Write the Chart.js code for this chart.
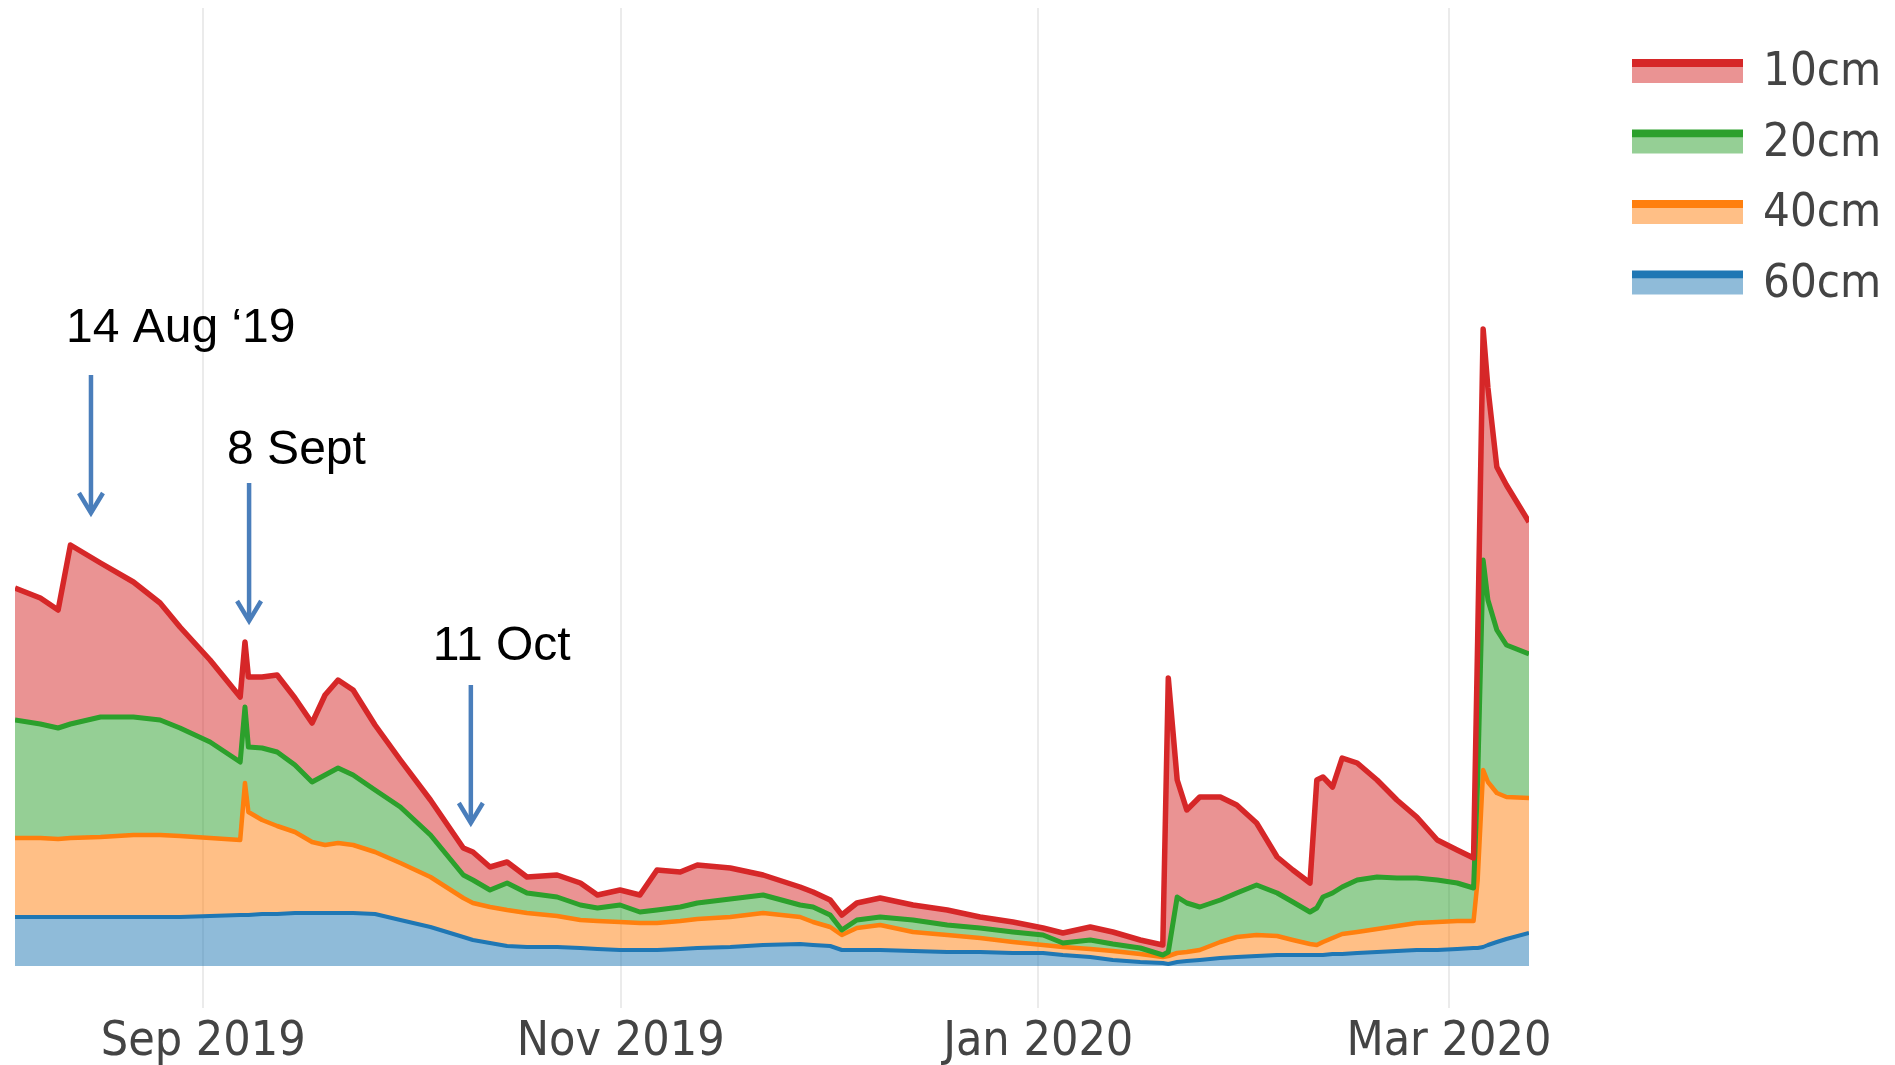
<!DOCTYPE html>
<html>
<head>
<meta charset="utf-8">
<title>Soil moisture by depth</title>
<script src="https://cdn.jsdelivr.net/npm/chart.js@4.4.1/dist/chart.umd.min.js"></script>
<style>
  html, body { margin: 0; padding: 0; background: #fff; }
  #wrap { width: 1895px; height: 1065px; position: relative; }
</style>
</head>
<body>
<div id="wrap"><canvas id="chart"></canvas></div>
<script>
// day 0 = 1 Aug 2019
const days = [3.5, 7.2, 9.8, 11.6, 16.0, 20.8, 24.7, 27.6, 32.0, 36.4, 37.1, 37.6, 39.6, 41.8, 44.4, 46.9, 48.8, 50.7, 52.9, 56.1,
  59.8, 64.2, 69.0, 70.4, 72.9, 75.4, 78.3, 82.7, 86.1, 88.6, 91.9, 94.8, 97.3, 100.7, 103.2, 108.0, 112.8, 118.2, 120.1, 122.6,
  124.3, 126.5, 129.9, 134.7, 139.7, 144.5, 149.3, 153.7, 156.6, 160.6, 163.9, 167.9, 171.2, 172.0, 173.3, 174.7, 176.6, 179.6, 182.0, 184.9,
  187.9, 190.2, 192.7, 193.7, 194.6, 196.0, 197.4, 199.6, 202.5, 205.4, 208.3, 211.3, 214.2, 216.6, 217.2, 218.0, 218.7, 220.0, 221.4, 224.7];

// layer thickness of each depth (stacked bottom -> top: 60, 40, 20, 10 cm)
const moist60 = [49, 49, 49, 49, 49, 49, 49, 49, 50, 51, 51, 51, 52, 52, 53, 53, 53, 53, 53, 52,
  46, 39, 29, 26, 23, 20, 19, 19, 18, 17, 16, 16, 16, 17, 18, 19, 21, 22, 21, 20,
  16, 16, 16, 15, 14, 14, 13, 13, 11, 9, 6, 4, 3, 2, 4, 5, 6, 8, 9, 10,
  11, 11, 11, 11, 11, 12, 12, 13, 14, 15, 16, 16, 17, 18, 18, 19, 21, 24, 27, 33];
const moist40 = [79, 79, 78, 79, 80, 82, 82, 81, 78, 75, 132, 103, 94, 88, 81, 71, 68, 70, 68, 62,
  57, 50, 39, 37, 36, 36, 34, 31, 28, 28, 28, 27, 27, 28, 29, 30, 32, 27, 23, 19,
  15, 22, 25, 19, 17, 14, 11, 8, 8, 8, 9, 8, 6, 8, 9, 9, 10, 16, 20, 21,
  19, 15, 11, 10, 13, 16, 20, 21, 23, 25, 27, 28, 28, 27, 68, 177, 163, 149, 142, 135];
const moist20 = [118, 114, 111, 114, 120, 118, 115, 108, 96, 78, 76, 65, 72, 74, 67, 60, 70, 75, 70, 62,
  56, 42, 23, 23, 17, 27, 20, 19, 15, 13, 17, 11, 13, 14, 16, 18, 18, 12, 15, 12,
  5, 8, 8, 12, 10, 10, 10, 10, 4, 9, 7, 6, 2, 4, 56, 49, 43, 42, 44, 50,
  43, 38, 32, 37, 45, 45, 47, 52, 52, 48, 45, 42, 38, 33, 100, 210, 182, 163, 152, 144];
const moist10 = [132, 126, 118, 179, 154, 135, 117, 101, 82, 65, 65, 70, 71, 77, 67, 59, 80, 88, 85, 65,
  47, 35, 27, 28, 23, 21, 16, 22, 22, 13, 15, 17, 40, 35, 38, 31, 20, 18, 15, 15,
  15, 17, 19, 15, 15, 11, 10, 7, 10, 13, 12, 8, 10, 274, 117, 93, 110, 103, 88, 62,
  36, 32, 29, 128, 120, 106, 129, 117, 97, 78, 61, 40, 33, 30, 140, 231, 212, 163, 160, 132];

const seriesNames = ['10cm', '20cm', '40cm', '60cm'];
const tickDays = [31, 92, 153, 213];
const tickLabels = ['Sep 2019', 'Nov 2019', 'Jan 2020', 'Mar 2020'];

const noteLabels = ['14 Aug \u201819', '8 Sept', '11 Oct'];
const noteDays = [14.6, 37.7, 70.1];
const noteTips = [452, 344, 142];

const lineColors = ['#d62728', '#2ca02c', '#ff7f0e', '#1f77b4'];
const fillColors = ['rgba(214,39,40,0.5)', 'rgba(44,160,44,0.5)', 'rgba(255,127,14,0.5)', 'rgba(31,119,180,0.5)'];
const lineWidths = [5.5, 5, 4.5, 4];

// running totals, like plotly's stackgroup
const layers = [moist60, moist40, moist20, moist10];
const tops = [];
layers.forEach((arr, k) => {
  tops.push(arr.map((v, i) => v + (k ? tops[k - 1][i] : 0)));
});
tops.reverse(); // 10cm boundary first so it is painted last

const arrowNotes = {
  id: 'arrowNotes',
  afterDatasetsDraw(chart) {
    const { ctx, scales: { x, y } } = chart;
    const textShift = [[-25, 33], [-22, 19], [-38, 25]];
    ctx.save();
    noteLabels.forEach((txt, i) => {
      const px = x.getPixelForValue(noteDays[i]);
      const tip = y.getPixelForValue(noteTips[i]);
      const top = tip - 139;
      ctx.strokeStyle = '#4a7ebb';
      ctx.lineWidth = 4.5;
      ctx.beginPath();
      ctx.moveTo(px, top);
      ctx.lineTo(px, tip - 2);
      ctx.stroke();
      ctx.beginPath();
      ctx.moveTo(px - 12, tip - 21);
      ctx.lineTo(px, tip - 1);
      ctx.lineTo(px + 12, tip - 21);
      ctx.stroke();
      ctx.fillStyle = '#000';
      ctx.font = '48px "Liberation Sans", Arial, sans-serif';
      ctx.textAlign = 'left';
      ctx.textBaseline = 'alphabetic';
      ctx.fillText(txt, px + textShift[i][0], top - textShift[i][1]);
    });
    ctx.restore();
  }
};

const sideLegend = {
  id: 'sideLegend',
  afterDraw(chart) {
    const ctx = chart.ctx;
    const left = chart.chartArea.right + 103;
    ctx.save();
    chart.data.datasets.forEach((ds, i) => {
      const cy = 71 + i * 70.5;
      ctx.fillStyle = ds.backgroundColor;
      ctx.fillRect(left, cy - 4, 111, 16);
      ctx.fillStyle = ds.borderColor;
      ctx.fillRect(left, cy - 12, 111, 8);
      ctx.fillStyle = '#444';
      ctx.font = '47px "DejaVu Sans Condensed", "DejaVu Sans", sans-serif';
      ctx.textAlign = 'left';
      ctx.textBaseline = 'middle';
      ctx.fillText(ds.label, left + 131, cy + 2);
    });
    ctx.restore();
  }
};

new Chart(document.getElementById('chart'), {
  type: 'line',
  data: {
    labels: days,
    datasets: seriesNames.map((name, i) => ({
      label: name,
      data: tops[i],
      borderColor: lineColors[i],
      backgroundColor: fillColors[i],
      borderWidth: lineWidths[i],
      fill: i < seriesNames.length - 1 ? '+1' : 'origin',
      pointRadius: 0,
      tension: 0,
      borderJoinStyle: 'round'
    }))
  },
  options: {
    responsive: true,
    maintainAspectRatio: false,
    animation: false,
    devicePixelRatio: 1,
    layout: { padding: { left: 15, right: 366, top: 8, bottom: 0 } },
    scales: {
      x: {
        type: 'linear',
        min: 3.5,
        max: 224.7,
        afterBuildTicks: (axis) => { axis.ticks = tickDays.map(v => ({ value: v })); },
        afterFit: (axis) => { axis.height = 57; },
        ticks: {
          autoSkip: false,
          maxRotation: 0,
          padding: 6,
          color: '#444',
          font: { family: '"DejaVu Sans Condensed", "DejaVu Sans", sans-serif', size: 48 },
          callback: (value, index) => tickLabels[index]
        },
        grid: { color: 'rgba(0,0,0,0.08)', lineWidth: 2, drawTicks: false },
        border: { display: false }
      },
      y: {
        display: false,
        min: -42,
        max: 958
      }
    },
    plugins: {
      legend: { display: false },
      tooltip: { enabled: false },
      filler: { drawTime: 'beforeDatasetsDraw' }
    }
  },
  plugins: [arrowNotes, sideLegend]
});
</script>
</body>
</html>
